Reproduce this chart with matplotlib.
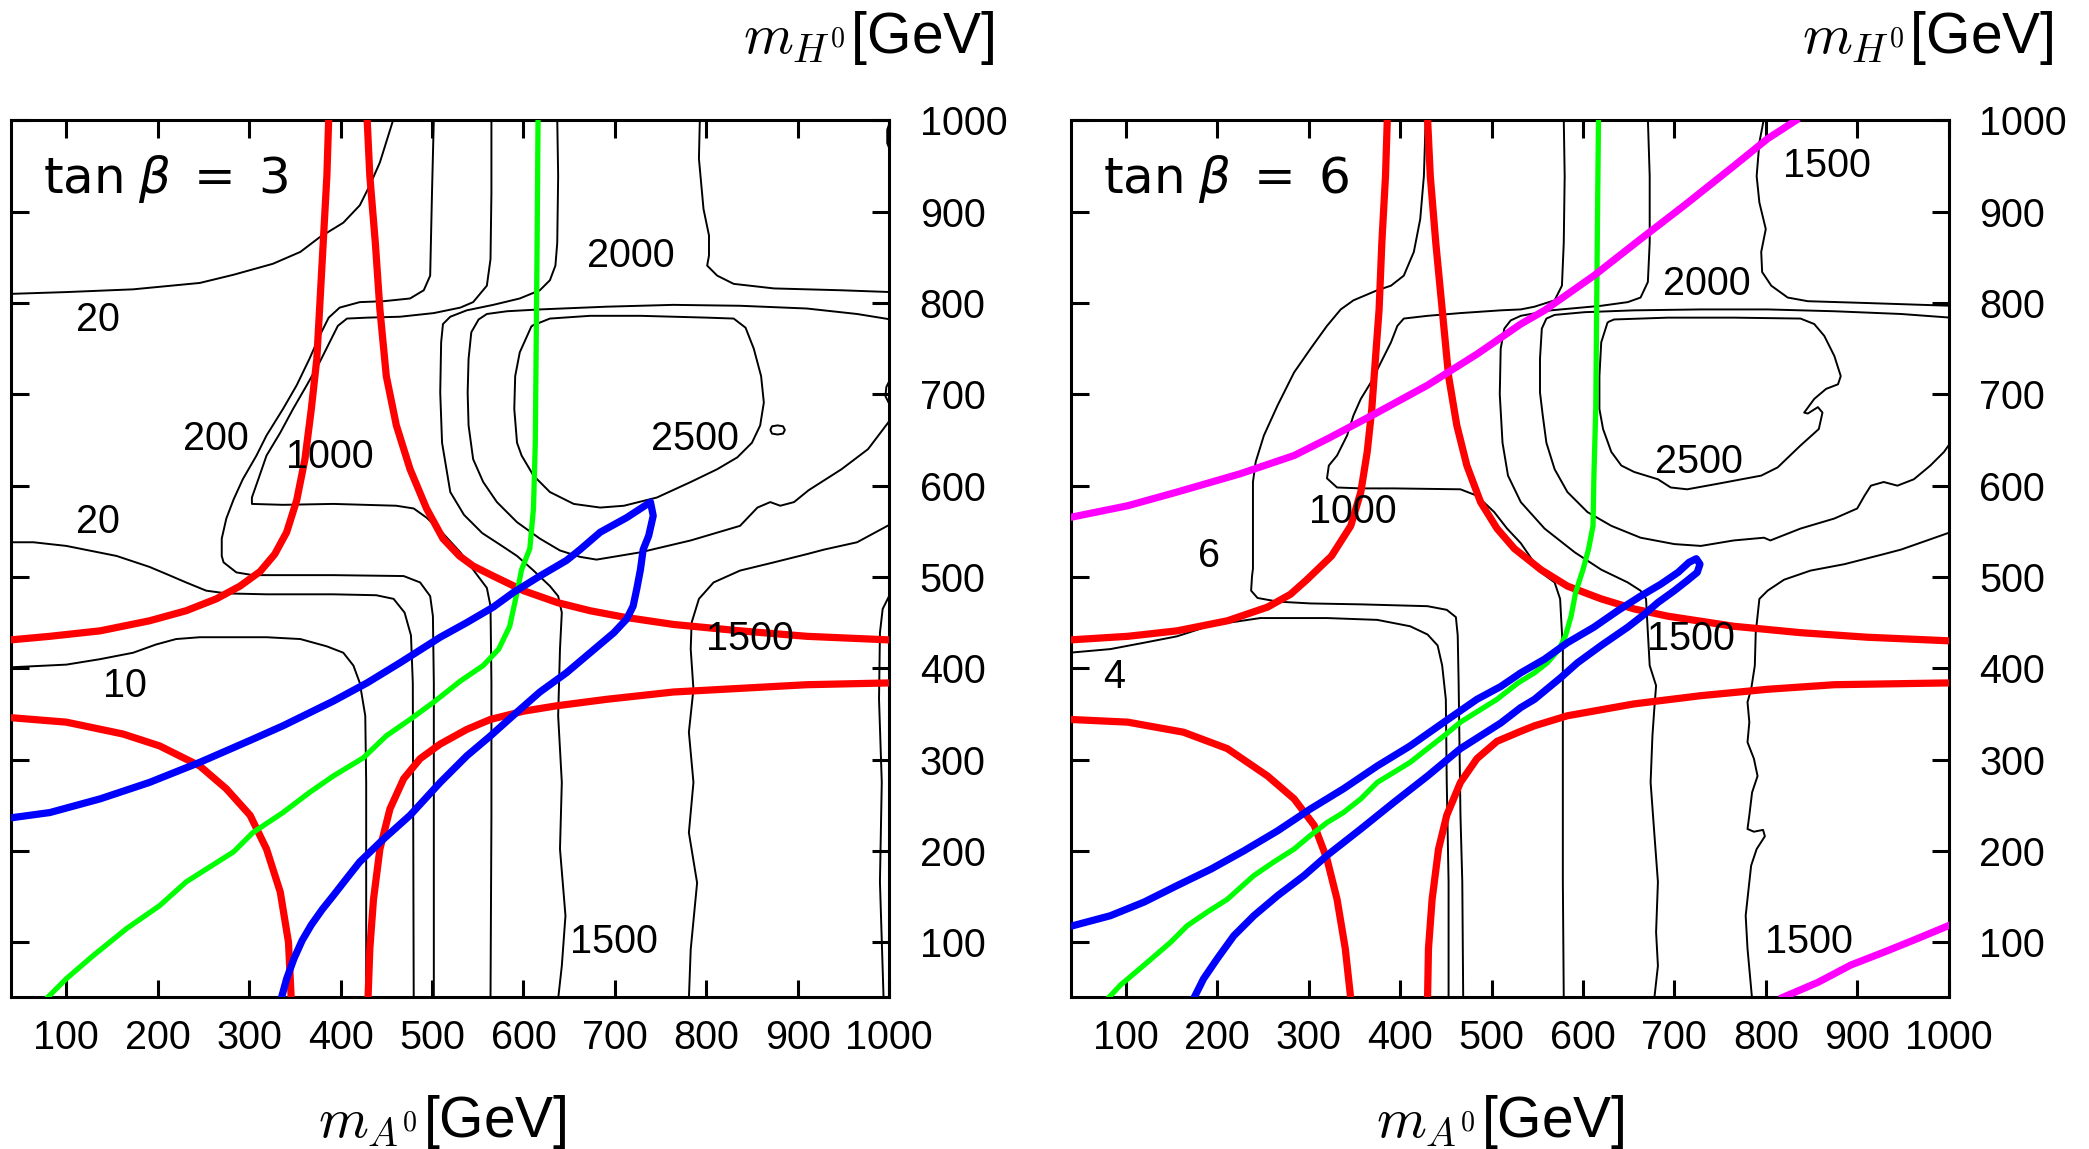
import matplotlib
matplotlib.use("Agg")
import matplotlib.pyplot as plt
import numpy as np

plt.rcParams["font.family"] = ["Liberation Sans", "DejaVu Sans"]

# ---------------------------------------------------------------------------
# tan(beta) = 3 panel: (m_A0, m_H0) pairs in GeV
# ---------------------------------------------------------------------------
L_C10 = [(38, 401), (100, 404), (137, 410), (173, 417), (198, 426), (220, 432), (246, 434),
         (319, 434), (356, 432), (385, 424), (403, 417), (414, 403), (421, 384), (427, 348),
         (428, 275), (428, 166), (428, 38)]
L_C20_LOW = [(38, 538), (64, 538), (100, 534), (155, 523), (191, 511), (210, 503), (231, 494),
             (253, 485), (275, 482), (319, 481), (392, 481), (439, 480), (458, 476), (470, 461),
             (477, 436), (479, 384), (480, 38)]
L_C20_TOP = [(38, 810), (100, 812), (173, 815), (246, 822), (283, 831), (326, 843), (356, 856),
             (377, 872), (403, 888), (421, 907), (432, 929), (443, 954), (458, 1002)]
L_C200 = [(502, 1002), (500, 921), (498, 830), (491, 814), (476, 805), (447, 802), (421, 801),
          (399, 795), (387, 784), (377, 764), (366, 739), (352, 710), (337, 684), (319, 655),
          (308, 633), (293, 607), (283, 585), (275, 564), (270, 542), (270, 523), (272, 516),
          (286, 505), (304, 502), (392, 502), (469, 501), (487, 494), (498, 479), (501, 457),
          (502, 384), (502, 38)]
L_C1000 = [(565, 1002), (565, 921), (564, 848), (560, 819), (545, 801), (531, 795), (502, 789),
           (465, 785), (429, 784), (407, 783), (397, 775), (388, 757), (377, 735), (363, 710),
           (348, 684), (334, 658), (319, 633), (310, 607), (303, 587), (303, 580), (337, 579),
           (392, 580), (461, 578), (480, 575), (494, 565), (509, 551), (531, 527), (545, 508),
           (560, 488), (564, 468), (565, 384), (565, 239), (564, 38)]
L_C1500 = [(637, 1002), (638, 939), (637, 866), (635, 841), (629, 825), (618, 814), (596, 805),
           (567, 798), (538, 792), (520, 785), (512, 777), (510, 757), (509, 702), (511, 647),
           (520, 593), (535, 568), (555, 548), (575, 535), (593, 523), (610, 508), (629, 490),
           (638, 479), (642, 461), (640, 421), (638, 348), (642, 275), (640, 202), (646, 129),
           (642, 74), (638, 38)]
L_C2000 = [(1002, 782), (965, 788), (910, 794), (837, 797), (764, 798), (691, 796), (618, 793),
           (582, 791), (560, 788), (551, 782), (543, 768), (540, 739), (539, 702), (540, 666),
           (545, 629), (556, 604), (571, 582), (593, 560), (618, 542), (640, 529), (662, 522),
           (680, 519), (728, 527), (783, 540), (837, 556), (856, 576), (870, 582), (881, 578),
           (896, 582), (912, 595), (948, 618), (977, 640), (1002, 673)]
L_C2500 = [(609, 775), (629, 783), (673, 786), (728, 786), (801, 784), (830, 783), (843, 773),
           (852, 750), (860, 720), (863, 691), (859, 666), (850, 647), (834, 631), (812, 618),
           (783, 604), (746, 587), (710, 578), (684, 576), (655, 580), (629, 593), (611, 611),
           (598, 633), (593, 647), (590, 684), (591, 720), (596, 746), (609, 775)]
L_C2500_DOT = [(870, 661), (872, 665), (878, 666), (884, 665), (886, 661), (884, 657), (878, 656),
               (872, 657), (870, 661)]
L_TR1500 = [(793, 1002), (792, 958), (797, 903), (803, 874), (803, 852), (801, 841), (812, 830),
            (830, 821), (874, 816), (947, 814), (1002, 812)]
L_BR1500 = [(781, 38), (783, 92), (790, 165), (781, 220), (786, 275), (781, 330), (786, 377),
            (783, 421), (784, 450), (792, 476), (808, 494), (837, 507), (874, 516), (910, 525),
            (929, 530), (965, 538), (1002, 558)]
L_EDGE = [(994, 38), (990, 166), (992, 275), (989, 366), (990, 439), (993, 465), (1002, 483)]
L_EDGE_ARC = [(1002, 718), (997, 708), (996, 698), (1002, 686)]
L_EDGE_TOP = [(1002, 1001), (998, 990), (998, 975), (1002, 965)]

L_RED_A = [(38, 431), (82, 435), (137, 441), (191, 452), (231, 463), (264, 476), (290, 490),
           (312, 506), (328, 525), (341, 549), (352, 584), (361, 629), (368, 684), (374, 739),
           (377, 793), (381, 866), (385, 939), (387, 1002)]
L_RED_B = [(429, 1002), (432, 939), (438, 866), (443, 793), (450, 720), (461, 666), (476, 618),
           (494, 575), (512, 542), (530, 523), (545, 512), (567, 501), (600, 485), (637, 472),
           (673, 463), (710, 456), (764, 448), (837, 441), (910, 435), (1002, 431)]
L_RED_C = [(430, 38), (432, 93), (436, 147), (443, 202), (454, 246), (469, 279), (487, 301),
           (509, 317), (538, 333), (564, 344), (600, 353), (637, 359), (691, 366), (764, 374),
           (837, 378), (910, 382), (1002, 384)]
L_RED_D = [(38, 346), (100, 341), (162, 328), (202, 315), (246, 293), (275, 268), (301, 239),
           (319, 202), (334, 155), (343, 100), (346, 38)]
L_GREEN = [(78, 38), (100, 60), (129, 85), (166, 115), (202, 140), (231, 166), (253, 180),
           (283, 199), (304, 220), (337, 242), (366, 264), (392, 282), (425, 302), (450, 326),
           (476, 344), (502, 363), (531, 386), (556, 403), (573, 421), (585, 446), (593, 483),
           (598, 508), (607, 531), (611, 575), (613, 647), (614, 757), (615, 866), (616, 1002)]
L_BLUE = [(38, 236), (82, 242), (137, 257), (191, 275), (246, 297), (301, 321), (337, 337),
          (392, 364), (429, 384), (465, 406), (509, 434), (538, 450), (567, 467), (589, 483),
          (618, 501), (647, 518), (662, 530), (684, 549), (713, 565), (739, 582), (742, 567),
          (737, 545), (731, 530), (728, 508), (724, 487), (720, 468), (713, 454), (699, 439),
          (673, 417), (647, 395), (618, 374), (593, 352), (564, 326), (538, 304), (509, 275),
          (476, 239), (447, 213), (421, 188), (406, 169), (392, 151), (380, 136), (368, 119),
          (358, 102), (349, 82), (341, 60), (335, 38)]

L_LABELS = ["20", "20", "200", "1000", "2000", "2500", "10", "1500", "1500"]
L_LABEL_X = [135, 135, 264, 388, 717, 788, 164, 848, 699]
L_LABEL_Y = [781, 560, 651, 631, 852, 651, 381, 432, 100]

# ---------------------------------------------------------------------------
# tan(beta) = 6 panel
# ---------------------------------------------------------------------------
R_C4 = [(38, 417), (83, 421), (120, 428), (156, 435), (193, 447), (247, 455), (320, 455),
        (375, 453), (411, 446), (430, 437), (441, 425), (446, 403), (450, 366), (451, 275),
        (453, 166), (453, 38)]
R_C6 = [(428, 1002), (426, 939), (422, 892), (415, 856), (404, 830), (390, 819), (375, 814),
        (349, 803), (335, 793), (320, 775), (302, 750), (284, 724), (266, 688), (251, 655),
        (242, 626), (239, 604), (239, 556), (239, 509), (238, 501), (237, 485), (244, 477),
        (266, 473), (302, 471), (357, 470), (430, 468), (451, 464), (461, 456), (463, 436),
        (464, 384), (466, 239), (468, 166), (469, 38)]
R_C1000 = [(579, 1002), (580, 939), (579, 866), (577, 819), (569, 803), (547, 796), (532, 793),
           (510, 792), (466, 789), (430, 786), (404, 783), (397, 775), (390, 757), (379, 735),
           (368, 713), (357, 695), (349, 677), (342, 655), (331, 633), (322, 622), (320, 608),
           (331, 598), (357, 597), (393, 597), (466, 596), (484, 589), (503, 571), (517, 553),
           (532, 537), (554, 505), (569, 494), (575, 476), (578, 421), (578, 275), (578, 166),
           (579, 38)]
R_C1500 = [(671, 1002), (673, 939), (673, 866), (671, 823), (663, 806), (649, 801), (620, 797),
           (565, 792), (532, 786), (521, 781), (514, 772), (510, 750), (509, 700), (512, 647),
           (518, 611), (532, 582), (558, 553), (591, 527), (620, 508), (649, 494), (663, 485),
           (669, 476), (671, 439), (673, 403), (680, 381), (678, 355), (676, 326), (674, 275),
           (678, 220), (682, 166), (680, 111), (682, 74), (678, 38)]
R_C2000 = [(1002, 784), (948, 788), (875, 791), (802, 793), (729, 793), (656, 792), (602, 790),
           (569, 787), (560, 783), (555, 772), (553, 739), (553, 702), (556, 677), (560, 647),
           (569, 618), (583, 593), (605, 571), (631, 556), (663, 543), (700, 536), (729, 534),
           (765, 540), (798, 543), (805, 540), (838, 553), (875, 564), (900, 575), (908, 589),
           (915, 600), (929, 604), (944, 600), (962, 607), (980, 622), (995, 637), (1002, 647)]
R_C2500 = [(627, 779), (634, 782), (693, 784), (765, 784), (838, 783), (853, 777), (864, 764),
           (875, 742), (882, 720), (879, 711), (866, 706), (853, 695), (842, 680), (846, 679),
           (857, 686), (862, 680), (858, 662), (838, 644), (813, 620), (795, 611), (747, 602),
           (714, 596), (696, 598), (682, 607), (656, 615), (642, 622), (631, 637), (622, 662),
           (618, 684), (618, 720), (620, 757), (627, 779)]
R_TR1500 = [(798, 1002), (793, 976), (790, 939), (793, 910), (800, 881), (795, 856), (796, 834),
            (806, 819), (824, 806), (846, 802), (911, 800), (1002, 797)]
R_BR1500 = [(785, 38), (780, 93), (778, 129), (782, 166), (784, 184), (790, 202), (799, 216),
            (797, 223), (787, 221), (780, 224), (782, 239), (785, 264), (791, 282), (787, 301),
            (780, 319), (782, 341), (780, 363), (784, 377), (788, 403), (789, 439), (793, 476),
            (802, 485), (820, 497), (849, 507), (886, 514), (929, 525), (948, 530), (1002, 549)]

R_RED_A = [(38, 431), (102, 435), (156, 441), (211, 452), (255, 467), (280, 481), (298, 497),
           (325, 523), (346, 556), (357, 593), (364, 637), (369, 684), (373, 739), (377, 793),
           (380, 866), (384, 939), (386, 1002)]
R_RED_B = [(430, 1002), (433, 939), (439, 866), (446, 793), (453, 720), (462, 666), (473, 622),
           (488, 582), (506, 553), (525, 531), (554, 508), (583, 490), (620, 476), (656, 465),
           (693, 457), (765, 446), (838, 439), (911, 434), (1002, 430)]
R_RED_C = [(430, 38), (431, 93), (435, 147), (442, 202), (451, 239), (466, 275), (484, 301),
           (506, 320), (532, 331), (547, 337), (583, 348), (656, 361), (729, 370), (802, 377),
           (875, 382), (1002, 384)]
R_RED_D = [(38, 344), (102, 341), (163, 330), (211, 312), (255, 282), (284, 257), (306, 228),
           (320, 191), (331, 147), (340, 93), (346, 38)]
R_GREEN = [(80, 38), (94, 53), (120, 75), (149, 100), (167, 118), (189, 133), (211, 147),
           (240, 173), (262, 188), (284, 202), (302, 217), (320, 231), (338, 242), (357, 257),
           (375, 275), (393, 286), (411, 297), (430, 312), (448, 326), (466, 341), (506, 366),
           (529, 384), (547, 395), (561, 406), (574, 421), (581, 436), (587, 457), (592, 483),
           (600, 508), (606, 530), (611, 556), (612, 611), (614, 684), (615, 793), (616, 903),
           (617, 1002)]
R_BLUE = [(38, 117), (83, 129), (120, 144), (156, 162), (193, 180), (229, 200), (266, 222),
          (302, 246), (338, 268), (375, 293), (411, 315), (448, 341), (484, 366), (510, 380),
          (532, 395), (558, 410), (583, 428), (612, 445), (638, 463), (663, 479), (685, 492),
          (704, 505), (716, 516), (724, 520), (728, 514), (725, 505), (714, 496), (700, 485),
          (682, 472), (667, 459), (649, 445), (620, 425), (594, 406), (576, 390), (547, 366),
          (532, 357), (510, 340), (466, 312), (430, 282), (393, 253), (357, 224), (320, 195),
          (295, 173), (266, 151), (240, 129), (218, 107), (200, 82), (185, 60), (174, 38)]
R_MAGENTA_TOP = [(38, 565), (102, 578), (156, 593), (225, 613), (284, 633), (320, 651),
                 (375, 680), (430, 710), (484, 744), (532, 777), (558, 792), (612, 830),
                 (663, 870), (711, 907), (765, 950), (802, 980), (836, 1002)]
R_MAGENTA_BOT = [(815, 38), (857, 56), (893, 75), (929, 89), (966, 104), (1002, 119)]

R_LABELS = ["1500", "2000", "2500", "1000", "6", "4", "1500", "1500"]
R_LABEL_X = [867, 736, 727, 348, 191, 87, 718, 847]
R_LABEL_Y = [950, 821, 626, 571, 523, 390, 432, 100]

TICKS = [100, 200, 300, 400, 500, 600, 700, 800, 900, 1000]

BLACK_LW = 1.4
THICK_LW = 5.2
TEXT_SIZE = 28.5


def draw_curve(ax, pts, color, lw, z):
    xy = np.asarray(pts, dtype=float)
    ax.plot(xy[:, 0], xy[:, 1], color=color, lw=lw, zorder=z,
            solid_joinstyle="round", solid_capstyle="butt")


def style_axes(ax):
    ax.set_xlim(40, 1000)
    ax.set_ylim(40, 1000)
    ax.set_xticks(TICKS)
    ax.set_yticks(TICKS)
    ax.tick_params(which="both", direction="in", length=12.6, width=2.2,
                   top=True, bottom=True, left=True, right=True,
                   labelleft=False, labelright=True, labelbottom=True, labeltop=False,
                   labelsize=TEXT_SIZE)
    ax.tick_params(axis="x", pad=16)
    ax.tick_params(axis="y", pad=22)
    for sp in ax.spines.values():
        sp.set_linewidth(2.2)


def draw_panel(ax, contours, reds, greens, blues, magentas, labels, lx, ly, title):
    for c in contours:
        draw_curve(ax, c, "black", BLACK_LW, 2)
    for c in reds:
        draw_curve(ax, c, "#ff0000", THICK_LW, 3)
    for c in greens:
        draw_curve(ax, c, "#00ff00", 3.8, 4)
    for c in blues:
        draw_curve(ax, c, "#0000ff", THICK_LW, 5)
    for c in magentas:
        draw_curve(ax, c, "#ff00ff", THICK_LW, 6)
    for txt, x, y in zip(labels, lx, ly):
        ax.text(x, y, txt, fontsize=TEXT_SIZE, ha="center", va="center", zorder=7)
    ax.text(75, 921, title, fontsize=36, ha="left", va="baseline",
            family="DejaVu Sans", math_fontfamily="dejavusans", zorder=7)
    style_axes(ax)


def main():
    fig = plt.figure(figsize=(20.89, 11.49), dpi=100)
    ax_l = fig.add_axes([0.0055, 0.1323, 0.4201, 0.7629])
    ax_r = fig.add_axes([0.5127, 0.1323, 0.4201, 0.7629])

    draw_panel(ax_l,
               [L_C10, L_C20_LOW, L_C20_TOP, L_C200, L_C1000, L_C1500, L_C2000, L_C2500,
                L_C2500_DOT, L_TR1500, L_BR1500, L_EDGE, L_EDGE_ARC, L_EDGE_TOP],
               [L_RED_A, L_RED_B, L_RED_C, L_RED_D], [L_GREEN], [L_BLUE], [],
               L_LABELS, L_LABEL_X, L_LABEL_Y, r"$\mathrm{tan}\;\beta\;=\;3$")
    draw_panel(ax_r,
               [R_C4, R_C6, R_C1000, R_C1500, R_C2000, R_C2500, R_TR1500, R_BR1500],
               [R_RED_A, R_RED_B, R_RED_C, R_RED_D], [R_GREEN], [R_BLUE],
               [R_MAGENTA_TOP, R_MAGENTA_BOT],
               R_LABELS, R_LABEL_X, R_LABEL_Y, r"$\mathrm{tan}\;\beta\;=\;6$")

    # axis titles: m_A0 under each panel, m_H0 over the right-hand scale
    for xc in (442 / 2089, 1500 / 2089):
        fig.text(xc, 1 - 1137 / 1149, r"$m_{A^0}$[GeV]", fontsize=41, ha="center",
                 va="baseline", math_fontfamily="cm")
    for xc in (869 / 2089, 1928 / 2089):
        fig.text(xc, 1 - 53 / 1149, r"$m_{H^0}$[GeV]", fontsize=41, ha="center",
                 va="baseline", math_fontfamily="cm")

    fig.savefig("out.png", dpi=100)
    plt.close(fig)


if __name__ == "__main__":
    main()
